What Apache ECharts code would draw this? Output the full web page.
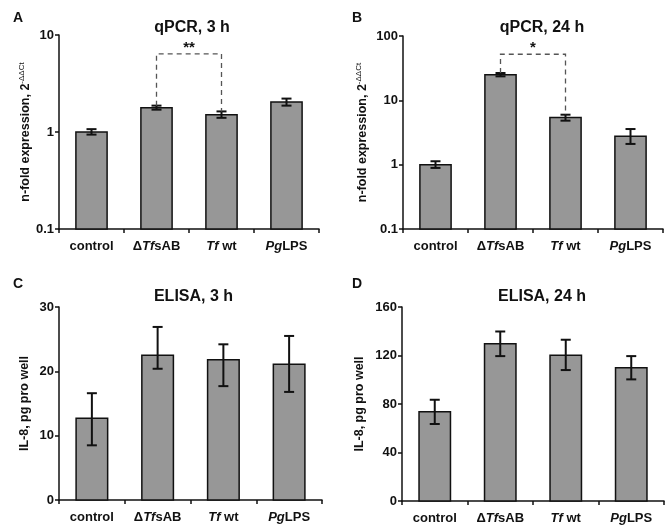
<!DOCTYPE html>
<html>
<head>
<meta charset="utf-8">
<script src="https://cdn.jsdelivr.net/npm/echarts@6/dist/echarts.min.js"></script>
<style>html,body{margin:0;padding:0;background:#fff;}#c{width:670px;height:530px;}</style>
</head>
<body>
<div id="c"></div>
<script>
// ---- data ----
const categories = ['control', 'ΔTfsAB', 'Tf wt', 'PgLPS'];

const qpcr3hValues = [1.0, 1.78, 1.51, 2.04];
const qpcr3hLow    = [0.94, 1.70, 1.40, 1.87];
const qpcr3hHigh   = [1.07, 1.87, 1.63, 2.21];

const qpcr24hValues = [1.0, 25.0, 5.4, 2.76];
const qpcr24hLow    = [0.89, 23.6, 4.83, 2.10];
const qpcr24hHigh   = [1.13, 26.6, 5.98, 3.58];

const elisa3hValues = [12.7, 22.5, 21.8, 21.1];
const elisa3hLow    = [8.5, 20.4, 17.7, 16.8];
const elisa3hHigh   = [16.6, 26.9, 24.2, 25.5];

const elisa24hValues = [73.6, 129.7, 120.3, 110.0];
const elisa24hLow    = [63.5, 119.5, 108.0, 100.3];
const elisa24hHigh   = [83.5, 139.8, 133.0, 119.5];

// significance brackets: [fromIndex, toIndex, level, label]
const qpcr3hBracket  = [1, 2, 6.4, '**'];
const qpcr24hBracket = [1, 2, 52, '*'];

const panelTitles = ['qPCR, 3 h', 'qPCR, 24 h', 'ELISA, 3 h', 'ELISA, 24 h'];
const panelLetters = ['A', 'B', 'C', 'D'];

// ---- chart ----
const FONT = '"Liberation Sans", Arial, sans-serif';
const chart = echarts.init(document.getElementById('c'), null, {renderer: 'canvas'});

const grids = [
  {left: 59, top: 35, width: 260, height: 194},
  {left: 403, top: 36, width: 260, height: 193},
  {left: 59, top: 307, width: 263, height: 193},
  {left: 402, top: 307, width: 262, height: 194}
];

function catLabel(v) {
  const m = v.match(/^(.*?)(Tf|Pg)(.*)$/);
  if (!m) return '{n|' + v + '}';
  return (m[1] ? '{n|' + m[1] + '}' : '') + '{i|' + m[2] + '}' + (m[3] ? '{n|' + m[3] + '}' : '');
}

const labelRich = {
  n: {fontFamily: FONT, fontWeight: 'bold', fontSize: 13, color: '#111'},
  i: {fontFamily: FONT, fontWeight: 'bold', fontStyle: 'italic', fontSize: 13, color: '#111'}
};

const axisLineStyle = {show: true, lineStyle: {color: '#111', width: 1.5}};

const xAxes = grids.map((g, k) => ({
  type: 'category', gridIndex: k, data: categories,
  axisLine: axisLineStyle,
  axisTick: {show: true, length: 4, interval: 0, lineStyle: {color: '#111', width: 1.5}},
  axisLabel: {margin: 11, interval: 0, formatter: catLabel, rich: labelRich},
  splitLine: {show: false}
}));

const qName = '{n|n-fold expression, 2}{s|-ΔΔCt}';
const nameRich = {
  n: {fontFamily: FONT, fontWeight: 'bold', fontSize: 12.5, color: '#111', lineHeight: 16},
  s: {fontFamily: FONT, fontSize: 8, color: '#111', verticalAlign: 'top', lineHeight: 16, padding: [0, 0, 2, 0]}
};

function yAxisBase(k) {
  return {
    gridIndex: k,
    nameLocation: 'middle',
    axisLine: axisLineStyle,
    axisTick: {show: true, length: 4, inside: false, lineStyle: {color: '#111', width: 1.5}},
    axisLabel: {margin: 5, fontFamily: FONT, fontWeight: 'bold', fontSize: 13, color: '#111'},
    splitLine: {show: false},
    minorTick: {show: false}
  };
}

const yAxes = [
  Object.assign(yAxisBase(0), {type: 'log', logBase: 10, min: 0.1, max: 10, name: qName, nameGap: 23, nameTextStyle: {rich: nameRich}}),
  Object.assign(yAxisBase(1), {type: 'log', logBase: 10, min: 0.1, max: 100, name: qName, nameGap: 32, nameTextStyle: {rich: nameRich}}),
  Object.assign(yAxisBase(2), {type: 'value', min: 0, max: 30, interval: 10, name: 'IL-8, pg pro well', nameGap: 28,
    nameTextStyle: {fontFamily: FONT, fontWeight: 'bold', fontSize: 12.5, color: '#111'}}),
  Object.assign(yAxisBase(3), {type: 'value', min: 0, max: 160, interval: 40, name: 'IL-8, pg pro well', nameGap: 36,
    nameTextStyle: {fontFamily: FONT, fontWeight: 'bold', fontSize: 12.5, color: '#111'}})
];

function barRender(params, api) {
  const i = api.value(0), v = api.value(1);
  const p = api.coord([i, v]);
  const cs = params.coordSys;
  const bottom = cs.y + cs.height;
  const w = api.size([1, 0])[0] * 0.48;
  return {type: 'rect', shape: {x: p[0] - w / 2, y: p[1], width: w, height: bottom - p[1]},
    style: {fill: '#979797', stroke: '#111', lineWidth: 1.5}};
}

function errRender(params, api) {
  const x = api.value(0), lo = api.value(1), hi = api.value(2);
  const pLo = api.coord([x, lo]), pHi = api.coord([x, hi]);
  const hw = 5;
  const st = {stroke: '#111', lineWidth: 2};
  return {type: 'group', children: [
    {type: 'line', shape: {x1: pHi[0], y1: pHi[1], x2: pLo[0], y2: pLo[1]}, style: st},
    {type: 'line', shape: {x1: pHi[0] - hw, y1: pHi[1], x2: pHi[0] + hw, y2: pHi[1]}, style: st},
    {type: 'line', shape: {x1: pLo[0] - hw, y1: pLo[1], x2: pLo[0] + hw, y2: pLo[1]}, style: st}
  ]};
}

function bracketRender(params, api) {
  const a = api.value(0), b = api.value(1), lvl = api.value(2), ya = api.value(3), yb = api.value(4);
  const pA0 = api.coord([a, ya]), pA1 = api.coord([a, lvl]);
  const pB1 = api.coord([b, lvl]), pB0 = api.coord([b, yb]);
  return {type: 'group', children: [
    {type: 'polyline', shape: {points: [pA0, pA1, pB1, pB0]},
      style: {stroke: '#555', lineWidth: 1.3, lineDash: [5, 4], fill: null}},
    {type: 'text', x: (pA1[0] + pB1[0]) / 2, y: pA1[1] - 6,
      style: {text: api.value(5), fontFamily: FONT, fontWeight: 'bold', fontSize: 15, fill: '#111',
        textAlign: 'center', textVerticalAlign: 'middle'}}
  ]};
}

function barSeries(k, vals) {
  return {type: 'custom', xAxisIndex: k, yAxisIndex: k, renderItem: barRender,
    data: vals.map((v, i) => [i, v]), encode: {x: 0, y: 1}, z: 2, animation: false, silent: true};
}
function errSeries(k, lo, hi) {
  return {type: 'custom', xAxisIndex: k, yAxisIndex: k, renderItem: errRender,
    data: lo.map((v, i) => [i, v, hi[i]]), encode: {x: 0, y: [1, 2]}, z: 5, animation: false, silent: true};
}
function bracketSeries(k, br, lo, hi) {
  return {type: 'custom', xAxisIndex: k, yAxisIndex: k, renderItem: bracketRender,
    data: [[br[0], br[1], br[2], hi[br[0]], hi[br[1]], br[3]]], encode: {x: 0, y: 2}, z: 6, animation: false, silent: true};
}

const centers = grids.map(g => g.left + g.width / 2);
const titles = panelTitles.map((t, k) => ({
  text: t, left: centers[k] + (k % 2 ? 4 : -2), top: k < 2 ? 15 : 284, textAlign: 'center',
  textStyle: {fontFamily: FONT, fontWeight: 'bold', fontSize: 16, color: '#111'}
}));
const letterPos = [[8, 6], [347, 6], [8, 272], [347, 272]];
panelLetters.forEach((l, k) => titles.push({
  text: l, left: letterPos[k][0], top: letterPos[k][1],
  textStyle: {fontFamily: FONT, fontWeight: 'bold', fontSize: 14, color: '#111'}
}));

chart.setOption({
  animation: false,
  backgroundColor: '#fff',
  title: titles,
  grid: grids,
  xAxis: xAxes,
  yAxis: yAxes,
  series: [
    barSeries(0, qpcr3hValues), errSeries(0, qpcr3hLow, qpcr3hHigh), bracketSeries(0, qpcr3hBracket, qpcr3hLow, qpcr3hHigh),
    barSeries(1, qpcr24hValues), errSeries(1, qpcr24hLow, qpcr24hHigh), bracketSeries(1, qpcr24hBracket, qpcr24hLow, qpcr24hHigh),
    barSeries(2, elisa3hValues), errSeries(2, elisa3hLow, elisa3hHigh),
    barSeries(3, elisa24hValues), errSeries(3, elisa24hLow, elisa24hHigh)
  ]
});
</script>
</body>
</html>
